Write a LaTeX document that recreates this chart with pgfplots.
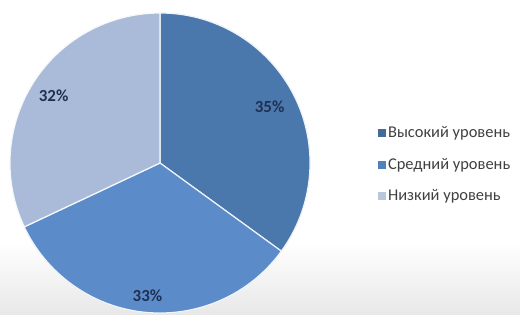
\documentclass[border=0pt]{standalone}
\usepackage{pgfplots}
\pgfplotsset{compat=1.18}
\usepackage{pgfplotstable}
\usepackage{fontspec}
\setmainfont{Carlito}
\definecolor{sA}{HTML}{4A78AD}
\definecolor{sB}{HTML}{5B8CC9}
\definecolor{sC}{HTML}{AABBD9}
\definecolor{lA}{HTML}{44699B}
\definecolor{lB}{HTML}{4F81BD}
\definecolor{lC}{HTML}{B9C6DC}
\definecolor{lbl}{HTML}{1F3052}
\definecolor{txt}{HTML}{404040}
\pgfplotstableread{
value r
35 0.82
33 0.89
32 0.84
}\pietable
\begin{document}
\begin{tikzpicture}[x=1bp,y=1bp]
\path[use as bounding box] (0,0) rectangle (520,314);
\fill[white] (0,0) rectangle (520,314);
\shade[top color=white, bottom color=black!9] (0,0) rectangle (520,72);
\pgfplotstablegetelem{0}{value}\of\pietable \let\vA\pgfplotsretval
\pgfplotstablegetelem{1}{value}\of\pietable \let\vB\pgfplotsretval
\pgfplotstablegetelem{2}{value}\of\pietable \let\vC\pgfplotsretval
\pgfplotstablegetelem{0}{r}\of\pietable \let\rA\pgfplotsretval
\pgfplotstablegetelem{1}{r}\of\pietable \let\rB\pgfplotsretval
\pgfplotstablegetelem{2}{r}\of\pietable \let\rC\pgfplotsretval
\pgfmathsetmacro\eA{90-3.6*\vA}
\pgfmathsetmacro\eB{\eA-3.6*\vB}
\pgfmathsetmacro\eC{\eB-3.6*\vC}
\pgfmathsetmacro\mA{90-1.8*\vA}
\pgfmathsetmacro\mB{\eA-1.8*\vB}
\pgfmathsetmacro\mC{\eB-1.8*\vC}
\begin{axis}[
  at={(160bp,151bp)}, anchor=origin,
  x=150bp, y=150bp,
  xmin=-1.05, xmax=1.05, ymin=-1.05, ymax=1.05,
  hide axis, clip=false,
  legend style={draw=none, fill=none, at={(axis description cs:1.192,0.495)}, anchor=west,
    inner sep=0pt, row sep=14bp, font=\fontsize{16.5}{18}\selectfont\color{txt},
    nodes={inner sep=2.5bp}},
  legend cell align=left,
  legend image code/.code={\fill[#1] (0bp,-3.5bp) rectangle (7bp,3.5bp);},
]
\fill[sA, draw=white!90!sA, line width=1.2bp] (axis cs:0,0) -- (axis cs:0,1) arc[start angle=90, end angle=\eA, radius=150bp] -- cycle;
\fill[sB, draw=white!90!sB, line width=1.2bp] (axis cs:0,0) -- ({cos(\eA)},{sin(\eA)}) arc[start angle=\eA, end angle=\eB, radius=150bp] -- cycle;
\fill[sC, draw=white!90!sC, line width=1.2bp] (axis cs:0,0) -- ({cos(\eB)},{sin(\eB)}) arc[start angle=\eB, end angle=\eC, radius=150bp] -- cycle;
\node[font=\fontsize{17}{19}\selectfont\bfseries, text=lbl] at (axis cs:{\rA*cos(\mA)},{\rA*sin(\mA)}) {\vA\%};
\node[font=\fontsize{17}{19}\selectfont\bfseries, text=lbl] at (axis cs:{\rB*cos(\mB)},{\rB*sin(\mB)}) {\vB\%};
\node[font=\fontsize{17}{19}\selectfont\bfseries, text=lbl] at (axis cs:{\rC*cos(\mC)},{\rC*sin(\mC)}) {\vC\%};
\addlegendimage{lA}
\addlegendentry{Высокий уровень}
\addlegendimage{lB}
\addlegendentry{Средний уровень}
\addlegendimage{lC}
\addlegendentry{Низкий уровень}
\end{axis}
\end{tikzpicture}
\end{document}
